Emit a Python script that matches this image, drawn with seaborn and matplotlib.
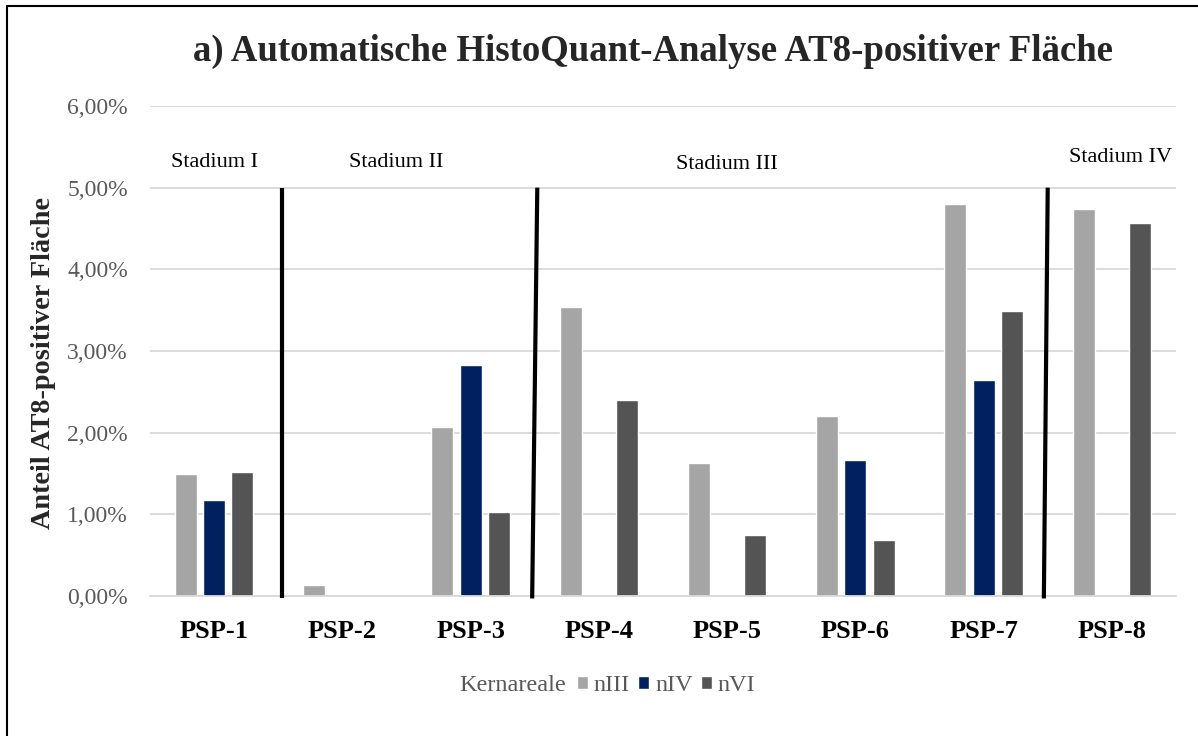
import numpy as np
import pandas as pd
import matplotlib
matplotlib.use('Agg')
import matplotlib.pyplot as plt
import seaborn as sns
from matplotlib.patches import Patch

# Werte in Prozent (NaN = kein Balken)
patients = ['PSP-1', 'PSP-2', 'PSP-3', 'PSP-4', 'PSP-5', 'PSP-6', 'PSP-7', 'PSP-8']
niii = [1.49, 0.13, 2.07, 3.54, 1.63, 2.21, 4.80, 4.74]
niv = [1.18, np.nan, 2.83, np.nan, np.nan, 1.66, 2.64, np.nan]
nvi = [1.52, np.nan, 1.03, 2.40, 0.75, 0.69, 3.49, 4.57]
kerne = ['nIII', 'nIV', 'nVI']
stadien = ['Stadium I', 'Stadium II', 'Stadium III', 'Stadium IV']
y_ticks = [0, 1, 2, 3, 4, 5, 6]

colors = ['#A5A5A5', '#002060', '#545454']
grey_txt = '#595959'
grid_col = '#D9D9D9'

df = pd.DataFrame({
    'Patient': patients * 3,
    'Kern': [k for k in kerne for _ in patients],
    'Wert': niii + niv + nvi,
}).dropna()

sns.set_style('white')
plt.rcParams['font.family'] = ['Liberation Serif', 'DejaVu Serif']

fig = plt.figure(figsize=(11.98, 7.36), dpi=100)
ax = fig.add_axes([0.1252, 0.1902, 0.8564, 0.6658])

sns.barplot(data=df, x='Patient', y='Wert', hue='Kern', order=patients,
            hue_order=kerne, palette=colors, saturation=1, width=0.66,
            gap=0.22, errorbar=None, legend=False, ax=ax, zorder=2)

ax.set_xlim(-0.5, 7.5)
ax.set_ylim(0, 6)
ax.set_yticks(y_ticks)
ax.set_yticklabels([f'{v:.2f}%'.replace('.', ',') for v in y_ticks],
                   color=grey_txt, fontsize=17)
ax.grid(axis='y', color=grid_col, linewidth=1.3, zorder=0)
ax.set_axisbelow(True)
ax.set_xlabel('')
ax.set_ylabel('')
for s in ['left', 'right', 'top']:
    ax.spines[s].set_visible(False)
ax.spines['bottom'].set_color(grid_col)
ax.spines['bottom'].set_linewidth(1.3)
ax.set_xticks(np.arange(-0.5, 8, 1), minor=True)
ax.tick_params(axis='x', which='major', length=0, labelsize=19, pad=17)
ax.tick_params(axis='x', which='minor', length=8, color=grid_col, width=1.3)
ax.tick_params(axis='y', length=0, pad=16)
for lab in ax.get_xticklabels():
    lab.set_fontweight('bold')
    lab.set_color('black')

# Trennlinien zwischen den Stadien
for x0, x1 in [(0.53, 0.53), (2.48, 2.52), (6.47, 6.50)]:
    ax.plot([x0, x1], [-0.03, 5.0], color='black', linewidth=3,
            clip_on=False, zorder=3, solid_capstyle='butt')

# Stadien-Beschriftung
for name, xs, ys in zip(stadien, [0.0, 1.42, 4.0, 7.07], [5.31, 5.31, 5.28, 5.37]):
    ax.text(xs, ys, name, ha='center', va='center', fontsize=16, color='black')

fig.text(0.545, 0.93, 'a) Automatische HistoQuant-Analyse AT8-positiver Fläche',
         ha='center', va='center', fontsize=26.5, fontweight='bold')
fig.text(0.036, 0.507, 'Anteil AT8-positiver Fläche', rotation=90,
         ha='center', va='center', fontsize=20.3, fontweight='bold')

# Legende
fig.text(0.428, 0.069, 'Kernareale', ha='center', va='center',
         fontsize=17.5, color=grey_txt)
handles = [Patch(facecolor=c, label=k) for c, k in zip(colors, kerne)]
fig.legend(handles=handles, loc='center', bbox_to_anchor=(0.556, 0.069),
           ncol=3, frameon=False, fontsize=17.5, labelcolor=grey_txt,
           handlelength=0.45, handleheight=0.45, handletextpad=0.25,
           columnspacing=0.33, borderaxespad=0, borderpad=0)

# Rahmen oben und links
fig.add_artist(plt.Line2D([0.0058, 0.0058], [0.0, 0.992], color='black',
                          linewidth=1.5, transform=fig.transFigure))
fig.add_artist(plt.Line2D([0.0058, 1.0], [0.992, 0.992], color='black',
                          linewidth=1.5, transform=fig.transFigure))

fig.savefig('out.png', dpi=100)
